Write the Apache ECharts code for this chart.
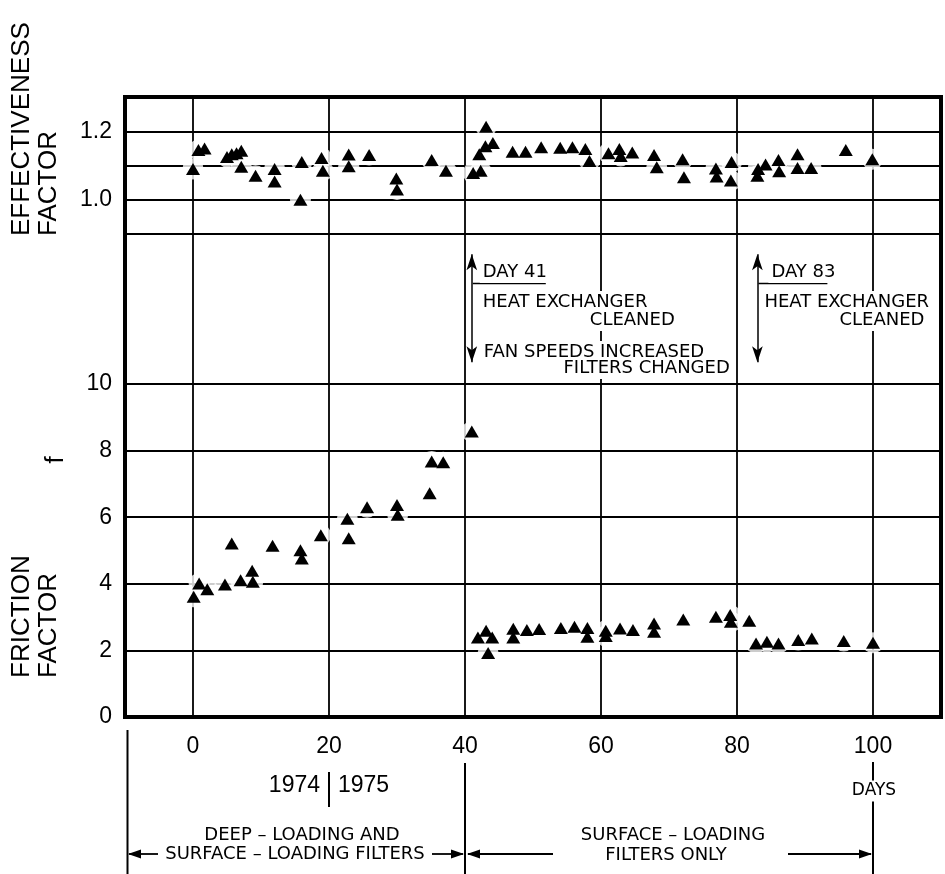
<!DOCTYPE html>
<html><head><meta charset="utf-8">
<script src="https://cdn.jsdelivr.net/npm/echarts@6/dist/echarts.min.js"></script>
<style>html,body{margin:0;padding:0;background:#fff}#c{width:945px;height:874px}</style>
</head><body><div id="c"></div>
<script>
// ---- data ----
const effDays = [0.0, 0.8, 1.7, 5.0, 5.7, 6.4, 7.1, 7.1, 9.2, 12.0, 12.0, 16.0, 15.8, 18.9, 19.1, 22.9, 22.9, 25.9, 29.9, 30.0, 35.1, 37.2,
  41.2, 42.3, 42.1, 43.0, 44.1, 43.1, 47.0, 48.9, 51.2, 54.0, 55.8, 57.7, 58.3, 61.1, 62.7, 62.9, 64.6, 67.8, 68.2, 72.0, 72.2,
  76.9, 77.0, 79.2, 79.1, 83.0, 83.1, 84.2, 86.1, 86.2, 88.9, 88.9, 90.9, 96.0, 99.9];
const effValues = [1.09, 1.145, 1.15, 1.125, 1.133, 1.136, 1.143, 1.096, 1.07, 1.09, 1.053, 1.11, 1.0, 1.122, 1.085, 1.132, 1.098, 1.131, 1.062, 1.03, 1.116, 1.085,
  1.078, 1.085, 1.133, 1.156, 1.166, 1.213, 1.14, 1.14, 1.153, 1.152, 1.153, 1.148, 1.113, 1.136, 1.148, 1.128, 1.138, 1.131, 1.095, 1.118, 1.066,
  1.091, 1.068, 1.11, 1.056, 1.07, 1.09, 1.103, 1.116, 1.083, 1.133, 1.093, 1.093, 1.145, 1.118];
const fricDays = [0.1, 0.9, 2.1, 4.7, 5.7, 7.0, 8.7, 8.8, 11.7, 15.8, 16.0, 18.8, 22.7, 22.9, 25.6, 30.0, 30.1, 34.8, 35.1, 36.8, 41.0,
  41.9, 43.1, 44.0, 43.4, 47.1, 47.1, 49.1, 50.9, 54.1, 56.1, 58.0, 58.0, 60.7, 60.7, 62.8, 64.7, 67.8, 67.8, 72.1, 76.9, 79.0, 79.1, 81.8,
  82.8, 84.4, 86.1, 89.0, 91.0, 95.7, 100.0];
const fricValues = [3.61, 4.01, 3.84, 3.98, 5.21, 4.11, 4.39, 4.06, 5.14, 5.01, 4.76, 5.46, 5.95, 5.37, 6.30, 6.37, 6.07, 6.72, 7.67, 7.65, 8.57,
  2.39, 2.59, 2.39, 1.92, 2.65, 2.39, 2.61, 2.64, 2.67, 2.71, 2.67, 2.41, 2.59, 2.43, 2.66, 2.61, 2.81, 2.56, 2.93, 3.01, 3.06, 2.86, 2.89,
  2.21, 2.26, 2.21, 2.31, 2.36, 2.28, 2.23];
const dayTicks = [0, 20, 40, 60, 80, 100];
const effTickLabels = ['1.0', '1.2'];
const eventDays = [41, 83];

// ---- layout ----
const L = 125, R = 941, T = 97, MID1 = 234, MID2 = 384, B = 717;
const ink = '#000';
const sans = '"Liberation Sans", Arial, sans-serif';
const deja = '"DejaVu Sans", sans-serif';

const chart = echarts.init(document.getElementById('c'), null, {renderer: 'canvas'});
const effData = effDays.map((d, i) => [d, effValues[i]]);
const fricData = fricDays.map((d, i) => [d, fricValues[i]]);

function xAx(gi, showLabel) {
  return {
    type: 'value', gridIndex: gi, min: -10, max: 110, interval: 10,
    axisLine: {show: false}, axisTick: {show: false}, splitLine: {show: false},
    axisLabel: showLabel ? {
      show: true, margin: 18, color: ink, fontFamily: sans, fontSize: 23,
      formatter: v => dayTicks.includes(v) ? String(v) : ''
    } : {show: false}
  };
}
const gridLine = {show: true, lineStyle: {color: ink, width: 1.8}};

const option = {
  animation: false,
  backgroundColor: '#fff',
  grid: [
    {left: L, right: 945 - R, top: T, height: MID1 - T},
    {left: L, right: 945 - R, top: MID2, height: B - MID2},
    {left: L, right: 945 - R, top: MID1, height: MID2 - MID1},
    {left: L, right: 945 - R, top: T, height: B - T}
  ],
  xAxis: [xAx(0, false), xAx(1, true), xAx(2, false), xAx(3, false)],
  yAxis: [
    {type: 'value', gridIndex: 0, min: 0.9, max: 1.3, interval: 0.1,
      axisLine: {show: false}, axisTick: {show: false}, splitLine: gridLine,
      axisLabel: {margin: 13, color: ink, fontFamily: sans, fontSize: 23,
        formatter: v => { const s = v.toFixed(1); return effTickLabels.includes(s) ? s : ''; }}},
    {type: 'value', gridIndex: 1, min: 0, max: 10, interval: 2,
      axisLine: {show: false}, axisTick: {show: false}, splitLine: gridLine,
      axisLabel: {margin: 13, color: ink, fontFamily: sans, fontSize: 23}},
    {type: 'value', gridIndex: 2, min: 0, max: 1, show: false},
    {type: 'value', gridIndex: 3, min: 0, max: 1, show: false}
  ],
  series: [
    {type: 'scatter', xAxisIndex: 3, yAxisIndex: 3, data: [], silent: true,
      markLine: {silent: true, z: 1, symbol: 'none', label: {show: false},
        lineStyle: {color: ink, width: 1.8, type: 'solid'},
        data: dayTicks.map(d => ({xAxis: d}))}},
    {type: 'scatter', xAxisIndex: 2, yAxisIndex: 2, data: [], silent: true,
      markLine: {silent: true, z: 1, symbol: ['arrow', 'arrow'], symbolSize: [8, 16], label: {show: false},
        lineStyle: {color: ink, width: 1.5, type: 'solid'},
        data: eventDays.map(d => [{coord: [d, 0.865]}, {coord: [d, 0.145]}])}},
    {type: 'scatter', xAxisIndex: 0, yAxisIndex: 0, data: effData, symbol: 'circle', symbolSize: 21,
      itemStyle: {color: '#fff'}, z: 3, silent: true},
    {type: 'scatter', xAxisIndex: 1, yAxisIndex: 1, data: fricData, symbol: 'circle', symbolSize: 21,
      itemStyle: {color: '#fff'}, z: 3, silent: true},
    {type: 'scatter', xAxisIndex: 0, yAxisIndex: 0, data: effData, symbol: 'triangle', symbolSize: [14, 12],
      itemStyle: {color: ink, opacity: 1}, z: 4, silent: true},
    {type: 'scatter', xAxisIndex: 1, yAxisIndex: 1, data: fricData, symbol: 'triangle', symbolSize: [14, 12],
      itemStyle: {color: ink, opacity: 1}, z: 4, silent: true}
  ]
};
chart.setOption(option);

const px = d => chart.convertToPixel({xAxisIndex: 1}, d);

function txt(x, y, text, font, align, opts) {
  const o = Object.assign({bg: false, rot: 0, va: 'middle'}, opts || {});
  const st = {text: text, font: font, fill: ink, align: align, verticalAlign: o.va,
    textAlign: align, textVerticalAlign: o.va};
  if (o.bg) { st.backgroundColor = '#fff'; st.padding = [2, 3]; }
  return {type: 'text', x: x, y: y, rotation: o.rot, z: 50, silent: true, style: st};
}
function ln(x1, y1, x2, y2, w) {
  return {type: 'line', z: 40, silent: true, shape: {x1, y1, x2, y2}, style: {stroke: ink, lineWidth: w || 1.8}};
}
function head(tx, ty, dir) {
  const s = dir === 'left' ? 1 : -1;
  return {type: 'polygon', z: 41, silent: true,
    shape: {points: [[tx, ty], [tx + s * 13, ty - 4.5], [tx + s * 13, ty + 4.5]]}, style: {fill: ink}};
}

const f18 = '18px ' + deja;
const e1 = px(eventDays[0]), e2 = px(eventDays[1]);
const x20 = px(20), x40 = px(40), x100 = px(100);

const g = [
  {type: 'rect', z: 100, silent: true, shape: {x: L, y: T, width: R - L, height: B - T},
    style: {fill: 'none', stroke: ink, lineWidth: 4}},
  // left axis titles
  txt(22, 236, 'EFFECTIVENESS', '26px ' + sans, 'left', {rot: Math.PI / 2}),
  txt(49, 236, 'FACTOR', '26px ' + sans, 'left', {rot: Math.PI / 2}),
  txt(56, 460, 'f', '26px ' + sans, 'center', {rot: Math.PI / 2}),
  txt(22, 678, 'FRICTION', '26px ' + sans, 'left', {rot: Math.PI / 2}),
  txt(49, 678, 'FACTOR', '26px ' + sans, 'left', {rot: Math.PI / 2}),
  // event annotations
  txt(e1 + 8, 272, 'DAY 41', f18, 'left', {bg: true}),
  ln(e1 + 1, 283.5, e1 + 74, 283.5, 1.5),
  txt(e1 + 8, 302, 'HEAT EXCHANGER', f18, 'left', {bg: true}),
  txt(e1 + 206, 320, 'CLEANED', f18, 'right', {bg: true}),
  txt(e1 + 9, 352, 'FAN SPEEDS INCREASED', f18, 'left', {bg: true}),
  txt(e1 + 261, 368, 'FILTERS CHANGED', f18, 'right', {bg: true}),
  txt(e2 + 11, 272, 'DAY 83', f18, 'left', {bg: true}),
  ln(e2 + 1, 283.5, e2 + 70, 283.5, 1.5),
  txt(e2 + 4, 302, 'HEAT EXCHANGER', f18, 'left', {bg: true}),
  txt(e2 + 170, 320, 'CLEANED', f18, 'right', {bg: true}),
  // below the plot
  ln(L + 2.5, 730, L + 2.5, 874, 2),
  ln(x40, 763, x40, 874, 2),
  ln(x20, 772, x20, 807, 2),
  txt(x20 - 9, 786, '1974', '23px ' + sans, 'right'),
  txt(x20 + 9, 786, '1975', '23px ' + sans, 'left'),
  ln(x100, 762, x100, 874, 2),
  txt(x100 + 1, 791, 'DAYS', '17px ' + deja, 'center', {bg: true}),
  txt(302, 835, 'DEEP – LOADING AND', f18, 'center'),
  txt(295, 854, 'SURFACE – LOADING FILTERS', f18, 'center'),
  ln(L + 4, 854, 158, 854, 1.8), head(L + 3, 854, 'left'),
  ln(432, 854, x40 - 2, 854, 1.8), head(x40 - 1, 854, 'right'),
  txt(673, 835, 'SURFACE – LOADING', f18, 'center'),
  txt(666, 855, 'FILTERS ONLY', f18, 'center'),
  ln(x40 + 3, 854, 553, 854, 1.8), head(x40 + 2, 854, 'left'),
  ln(788, 854, x100 - 2, 854, 1.8), head(x100 - 1, 854, 'right')
];
chart.setOption({graphic: {elements: g}});
</script>
</body></html>
